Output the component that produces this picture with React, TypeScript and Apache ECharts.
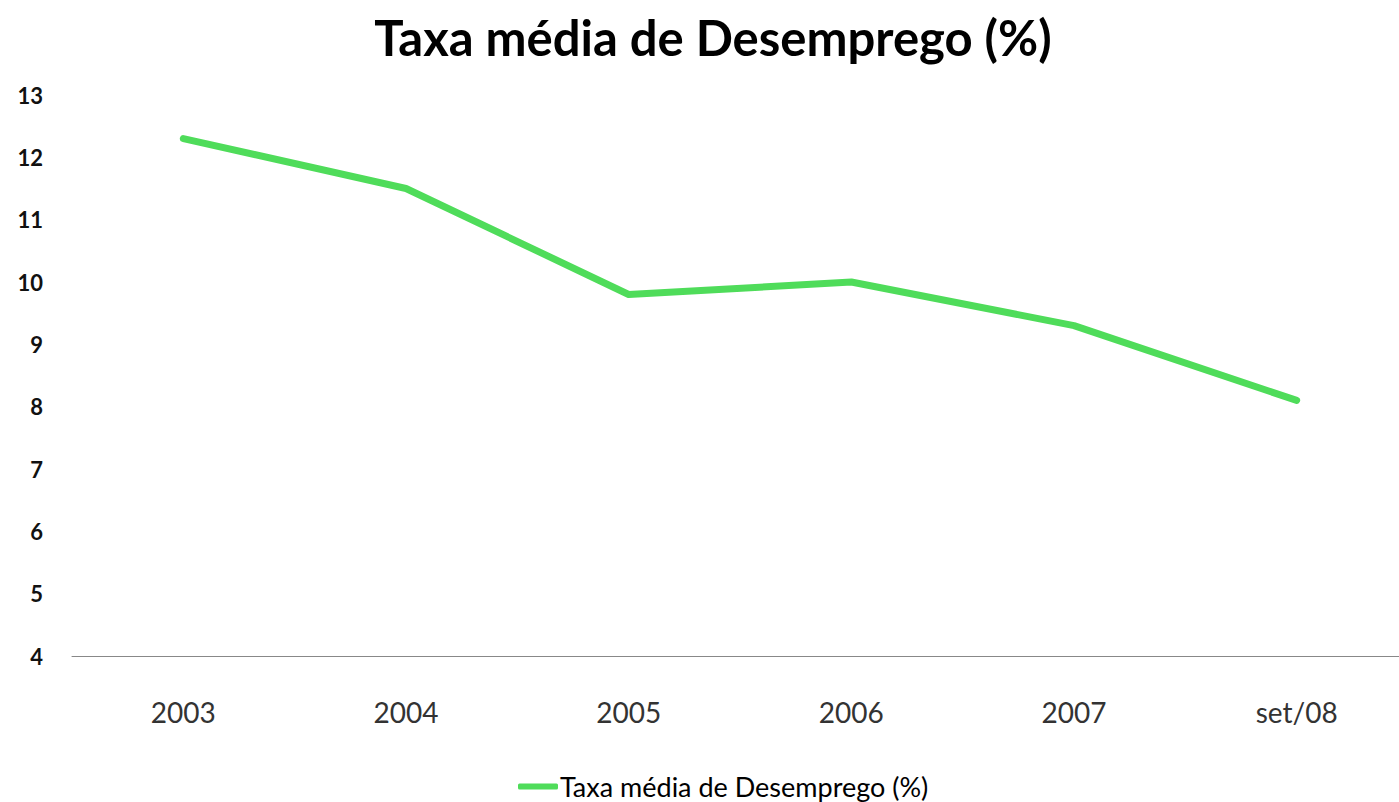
import React, { useEffect, useRef } from "react";
import * as echarts from "echarts";

const categories = ["2003", "2004", "2005", "2006", "2007", "set/08"];
const unemploymentRate = [12.3, 11.5, 9.8, 10.0, 9.3, 8.1];
const seriesName = "Taxa média de Desemprego (%)";
const titleText = "Taxa média de Desemprego (%)";

export default function App() {
  const ref = useRef<HTMLDivElement>(null);
  useEffect(() => {
    if (!ref.current) return;
    const chart = echarts.init(ref.current, null, { renderer: "svg" });
    chart.setOption({
      animation: false,
      backgroundColor: "#ffffff",
      title: {
        text: titleText,
        left: 708,
        textAlign: "center",
        top: 7,
        textStyle: { fontFamily: "Lato", fontWeight: "bold", fontSize: 49, color: "#000000" },
      },
      legend: {
        data: [seriesName],
        left: 518,
        top: 773,
        icon: "roundRect",
        itemWidth: 40,
        itemHeight: 6,
        padding: 0,
        textStyle: { fontFamily: "Lato", fontSize: 27, color: "#000000", padding: [0, 0, 0, -3] },
      },
      grid: { left: 72, right: 0, top: 95, bottom: 146 },
      xAxis: {
        type: "category",
        data: categories,
        boundaryGap: true,
        axisLine: { show: true, lineStyle: { color: "#888888", width: 1 } },
        axisTick: { show: false },
        axisLabel: { fontFamily: "Lato", fontSize: 28, color: "#333333", margin: 42 },
        splitLine: { show: false },
      },
      yAxis: {
        type: "value",
        min: 4,
        max: 13,
        interval: 1,
        axisLine: { show: false },
        axisTick: { show: false },
        splitLine: { show: false },
        axisLabel: { fontFamily: "Lato", fontSize: 22, fontWeight: "bold", color: "#111111", margin: 29 },
      },
      series: [
        {
          name: seriesName,
          type: "line",
          data: unemploymentRate,
          symbol: "none",
          lineStyle: { color: "#4fdc5a", width: 7, cap: "round", join: "round" },
          itemStyle: { color: "#4fdc5a" },
        },
      ],
    });
    return () => chart.dispose();
  }, []);
  return (
    <div style={{ position: "absolute", left: 0, top: 0, width: 1399, height: 802, overflow: "hidden" }}>
      <div ref={ref} style={{ width: 1408, height: 802 }} />
    </div>
  );
}
